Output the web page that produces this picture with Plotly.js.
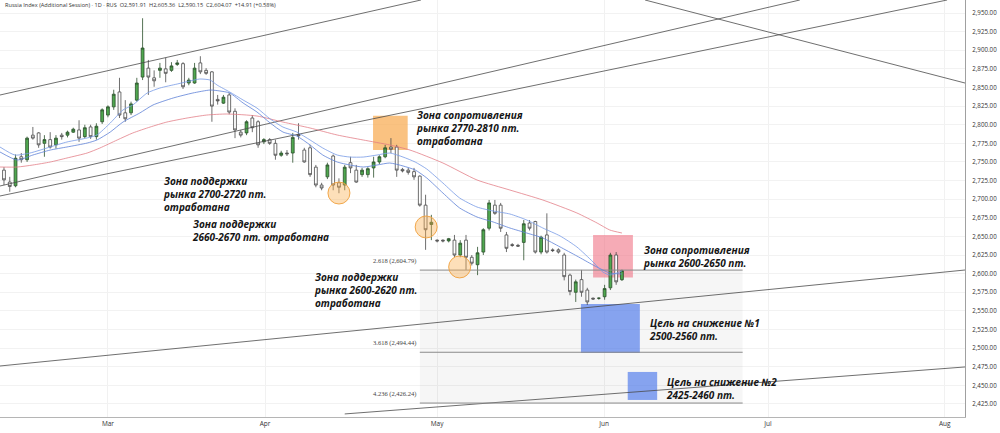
<!DOCTYPE html>
<html><head><meta charset="utf-8">
<script src="https://cdn.plot.ly/plotly-3.0.1.min.js"></script>
<style>html,body{margin:0;padding:0;background:#fff}#chart{width:1000px;height:433px}</style>
</head><body><div id="chart"></div>
<script>
// ---- Daily candles (bar index 0..107) ----
const opens  = [2739,2723,2718,2757,2753,2786,2789,2775,2780,2773,2786,2786,2790,2793,2784,2797,2784,2804,2813,2824,
                2844,2816,2816,2833,2864,2876,2863,2873,2875,2873,2881,2882,2856,2856,2883,2873,2871,2834,2829,2840,
                2818,2790,2789,2809,2804,2777,2780,2775,2759,2762,2762,2787,2766,2769,2743,2719,2730,2758,2722,2719,
                2749,2739,2733,2733,2742,2750,2757,2770,2770,2740,2739,2737,2731,2692,2666,2645,2645,2644,2645,2625,
                2645,2622,2612,2629,2661,2692,2692,2652,2639,2638,2642,2668,2670,2629,2652,2632,2632,2625,2598,2575,
                2592,2578,2567,2567,2569,2581,2625,2591.91];
const highs  = [2743,2730,2760,2762,2784,2797,2790,2786,2790,2786,2789,2792,2796,2806,2800,2800,2802,2822,2826,2847,
                2863,2833,2831,2863,2943,2887,2873,2883,2890,2884,2887,2884,2863,2883,2892,2876,2872,2840,2840,2843,
                2822,2793,2806,2813,2806,2782,2782,2780,2765,2766,2789,2802,2769,2773,2746,2722,2749,2760,2728,2746,
                2757,2746,2742,2743,2757,2759,2773,2782,2773,2742,2742,2742,2732,2706,2679,2646,2646,2648,2652,2645,
                2652,2625,2636,2661,2699,2699,2695,2656,2641,2640,2672,2672,2671,2651,2681,2634,2634,2628,2600,2592,
                2605,2581,2568,2568,2585,2628,2629,2605.36];
const lows   = [2719,2710,2716,2749,2750,2780,2769,2757,2768,2768,2780,2783,2789,2777,2782,2781,2780,2801,2810,2820,
                2809,2804,2813,2831,2860,2840,2851,2863,2857,2871,2879,2848,2853,2855,2868,2867,2804,2827,2828,2814,
                2782,2783,2786,2790,2769,2774,2773,2753,2757,2758,2749,2780,2749,2730,2716,2712,2727,2712,2708,2712,
                2735,2722,2730,2729,2729,2747,2755,2762,2730,2736,2733,2726,2690,2632,2645,2642,2642,2642,2622,2622,
                2605,2611,2598,2625,2658,2679,2656,2629,2636,2636,2618,2658,2627,2626,2627,2629,2627,2591,2571,2562,
                2569,2558,2565,2565,2565,2578,2585,2590.15];
const closes = [2726,2717,2755,2753,2782,2782,2773,2780,2770,2782,2784,2790,2794,2782,2796,2784,2798,2820,2824,2841,
                2813,2808,2828,2856,2903,2864,2859,2876,2869,2879,2883,2851,2860,2876,2871,2869,2825,2832,2837,2817,
                2793,2786,2804,2796,2773,2780,2775,2759,2762,2761,2783,2785,2750,2733,2719,2715,2746,2719,2716,2743,
                2742,2723,2739,2741,2750,2757,2769,2767,2739,2738,2736,2730,2692,2659,2669,2644,2644,2647,2625,2641,
                2622,2614,2628,2659,2695,2681,2661,2634,2638,2637,2667,2661,2629,2649,2629,2631,2629,2596,2576,2589,
                2575,2562,2566,2567,2580,2625,2589,2604.07];
const barIndex = opens.map((_, i) => i);

// ---- Moving averages (bar index, price) ----
const maFastX = [-0.7,1.9,4.5,8.0,10.9,14.4,16.1,18.4,20.6,22.3,24.8,27.0,30.0,32.2,33.9,35.7,36.9,39.1,41.4,43.8,46.1,48.3,50.7,53.0,55.2,57.7,59.9,62.2,64.6,66.8,69.1,71.2,73.2,76.0,78.9,81.9,84.7,87.6,90.5,93.3,96.3,99.2,102.0,103.7,104.9,107.0];
const maFastY = [2770.1,2759.3,2762.0,2770.1,2776.8,2782.2,2786.2,2802.3,2819.8,2826.5,2842.6,2849.3,2854.7,2858.7,2861.4,2860.0,2853.3,2843.9,2833.2,2822.4,2807.7,2796.9,2790.2,2779.5,2768.7,2759.3,2756.6,2756.6,2759.3,2762.0,2756.6,2749.9,2740.5,2721.7,2701.6,2689.5,2684.1,2680.1,2672.1,2661.3,2650.6,2635.8,2615.7,2602.2,2598.2,2603.6];
const maMidX  = [-0.7,2.3,5.0,8.0,10.9,14.4,16.1,18.4,20.6,23.5,25.8,29.3,32.7,35.7,37.4,39.1,41.4,43.8,46.1,48.3,50.7,53.0,55.2,57.7,59.9,62.2,64.6,66.8,69.1,71.2,73.2,76.0,78.9,81.9,84.7,87.6,90.5,93.3,96.3,99.2,102.0,103.7,104.9,107.0];
const maMidY  = [2763.4,2752.6,2759.3,2766.0,2770.1,2775.4,2779.5,2790.2,2803.6,2815.7,2826.5,2835.9,2842.6,2846.6,2845.3,2842.6,2829.2,2817.1,2802.3,2790.2,2784.8,2772.8,2759.3,2749.9,2745.9,2743.2,2745.9,2748.6,2744.6,2739.2,2728.5,2708.3,2688.2,2676.1,2669.4,2661.3,2654.6,2647.9,2635.8,2623.7,2611.6,2604.9,2600.9,2599.5];
const maSlowX = [-0.7,2.3,5.0,8.0,10.9,14.4,16.6,19.6,22.3,25.3,28.2,31.7,35.1,38.6,43.8,48.3,53.0,57.7,62.2,66.8,70.3,76.0,81.9,87.6,93.3,99.2,102.7,104.9,107.0];
const maSlowY = [2743.2,2743.2,2745.9,2749.9,2755.3,2762.0,2768.7,2779.5,2788.9,2796.9,2803.6,2809.0,2813.0,2814.4,2811.7,2803.6,2795.6,2786.2,2779.5,2772.8,2766.0,2748.6,2725.8,2712.3,2698.9,2681.5,2668.0,2658.6,2654.6];

// ---- Trend lines: [startIndex, startPrice, endIndex, endPrice] ----
const trendLines = [
  [-0.7, 2839.9, 72.2, 2967.5],
  [-0.7, 2717.7, 137.8, 2967.5],
  [-0.7, 2704.3, 163.3, 2967.5],
  [111.0, 2967.5, 166.4, 2856.0],
  [-0.7, 2476.0, 166.4, 2604.9],
  [59.0, 2411.6, 166.4, 2474.7]
];

// ---- Fibonacci extension levels ----
const fibRatios = ['2.618', '3.618', '4.236'];
const fibPrices = [2604.79, 2494.44, 2426.24];
const fibStart = 72.0, fibEnd = 127.9;

// ---- Zones (rectangles): index range and price range ----
const zoneStart = [63.9, 102.0, 99.9, 108.0];
const zoneEnd   = [69.9, 108.9, 110.1, 113.1];
const zoneLow   = [2766, 2595, 2493.5, 2430.4];
const zoneHigh  = [2812, 2652, 2559.3, 2468];
const zoneFill  = ['rgba(248,170,80,0.72)', 'rgba(240,110,130,0.58)', 'rgba(90,130,235,0.72)', 'rgba(90,130,235,0.72)'];

// ---- Touch points (circles) ----
const touchIndex = [58.0, 73.1, 78.9];
const touchPrice = [2708.3, 2662.7, 2609.0];

// ---- Axis ticks ----
const monthTickPos = [18, 45.2, 75, 103.9, 132.3, 162.9];
const monthLabels = ['Mar', 'Apr', 'May', 'Jun', 'Jul', 'Aug'];

// ---- Notes ----
const noteTexts = [
  'Зона сопротивления<br>рынка 2770-2810 пт.<br>отработана',
  'Зона поддержки<br>рынка 2700-2720 пт.<br>отработана',
  'Зона поддержки<br>2660-2670 пт. отработана',
  'Зона поддержки<br>рынка 2600-2620 пт.<br>отработана',
  'Зона сопротивления<br>рынка 2600-2650 пт.',
  'Цель на снижение №1<br>2500-2560 пт.',
  'Цель на снижение №2<br>2425-2460 пт.'
];
const noteX = [71.0, 27.2, 32.2, 53.3, 110.3, 111.3, 114.3];
const noteY = [2795.6, 2707.6, 2658.0, 2577.4, 2623.1, 2525.0, 2445.5];

const headerText = 'Russia Index (Additional Session) · 1D · RUS\u00a0\u00a0O2,591.91\u00a0\u00a0H2,605.36\u00a0\u00a0L2,590.15\u00a0\u00a0C2,604.07\u00a0\u00a0+14.91 (+0.58%)';

const traces = [];
trendLines.forEach(t => traces.push({
  type: 'scatter', mode: 'lines', x: [t[0], t[2]], y: [t[1], t[3]],
  line: {color: '#4a4a4a', width: 0.8}, hoverinfo: 'skip', showlegend: false
}));
fibPrices.forEach(p => traces.push({
  type: 'scatter', mode: 'lines', x: [fibStart, fibEnd], y: [p, p],
  line: {color: '#8a8a8a', width: 1}, hoverinfo: 'skip', showlegend: false
}));
traces.push({type: 'scatter', mode: 'lines', x: maSlowX, y: maSlowY, line: {color: 'rgba(225,120,130,0.75)', width: 1, shape: 'spline', smoothing: 0.6}, hoverinfo: 'skip', showlegend: false});
traces.push({type: 'scatter', mode: 'lines', x: maMidX, y: maMidY, line: {color: 'rgba(95,130,215,0.8)', width: 1, shape: 'spline', smoothing: 0.6}, hoverinfo: 'skip', showlegend: false});
traces.push({type: 'scatter', mode: 'lines', x: maFastX, y: maFastY, line: {color: 'rgba(120,155,230,0.8)', width: 1, shape: 'spline', smoothing: 0.6}, hoverinfo: 'skip', showlegend: false});
traces.push({
  type: 'candlestick', x: barIndex, open: opens, high: highs, low: lows, close: closes,
  increasing: {line: {color: '#2b4f2b', width: 0.8}, fillcolor: '#4fa84f'},
  decreasing: {line: {color: '#4a4a4a', width: 0.8}, fillcolor: '#ffffff'},
  whiskerwidth: 0, hoverinfo: 'skip', showlegend: false
});

const shapes = [];
shapes.push({type: 'rect', xref: 'x', yref: 'y', x0: fibStart, x1: fibEnd, y0: fibPrices[2], y1: fibPrices[0],
  fillcolor: 'rgba(0,0,0,0.035)', line: {width: 0}, layer: 'between'});
zoneStart.forEach((s, i) => shapes.push({type: 'rect', xref: 'x', yref: 'y', x0: s, x1: zoneEnd[i], y0: zoneLow[i], y1: zoneHigh[i],
  fillcolor: zoneFill[i], line: {width: 0}, layer: 'between'}));
touchIndex.forEach((t, i) => shapes.push({type: 'circle', xref: 'x', yref: 'y', xsizemode: 'pixel', ysizemode: 'pixel',
  xanchor: t, yanchor: touchPrice[i], x0: -11, x1: 11, y0: -11, y1: 11,
  fillcolor: 'rgba(250,175,80,0.4)', line: {color: 'rgba(240,160,60,0.9)', width: 1}, layer: 'above'}));

const noteFont = {family: "'Open Sans', 'DejaVu Sans', sans-serif", size: 10, color: '#151515'};
const annotations = noteTexts.map((t, i) => ({
  xref: 'x', yref: 'y', x: noteX[i], y: noteY[i], xanchor: 'left', yanchor: 'middle', align: 'left',
  text: '<b><i>' + t + '</i></b>', showarrow: false, font: noteFont
}));
fibPrices.forEach((p, i) => annotations.push({
  xref: 'x', yref: 'y', x: fibStart - 0.4, y: p, xanchor: 'right', yanchor: 'bottom', yshift: 3,
  text: fibRatios[i] + ' (' + p.toLocaleString('en-US', {minimumFractionDigits: 2}) + ')',
  showarrow: false, font: {family: "'Liberation Serif', serif", size: 6.5, color: '#444'}
}));
annotations.push({xref: 'paper', yref: 'paper', x: 0.003, y: 0.987, xanchor: 'left', yanchor: 'middle',
  text: headerText, showarrow: false, font: {family: "'Open Sans', sans-serif", size: 5.6, color: '#333'}});

const layout = {
  width: 1000, height: 433,
  margin: {l: 0, r: 35, t: 0, b: 16},
  paper_bgcolor: '#ffffff', plot_bgcolor: '#ffffff',
  showlegend: false,
  xaxis: {
    type: 'linear', range: [-0.69, 166.4], tickvals: monthTickPos, ticktext: monthLabels,
    showgrid: true, gridcolor: '#f1f1f1', zeroline: false, showline: true, linecolor: '#b5b5b5', linewidth: 1,
    ticks: '', tickfont: {family: "'Open Sans', sans-serif", size: 6.5, color: '#333'},
    rangeslider: {visible: false}, fixedrange: true
  },
  yaxis: {
    side: 'right', range: [2407.5, 2967.5], tick0: 2425, dtick: 25, tickformat: ',.2f',
    showgrid: true, gridcolor: '#f2f2f2', zeroline: false, showline: true, linecolor: '#a0a0a0', linewidth: 1,
    ticks: 'outside', ticklen: 5, tickcolor: 'rgba(0,0,0,0)',
    tickfont: {family: "'Open Sans', sans-serif", size: 6.2, color: '#333'}, fixedrange: true
  },
  shapes: shapes,
  annotations: annotations
};

Plotly.newPlot('chart', traces, layout, {staticPlot: true, displayModeBar: false});
</script>
</body></html>
